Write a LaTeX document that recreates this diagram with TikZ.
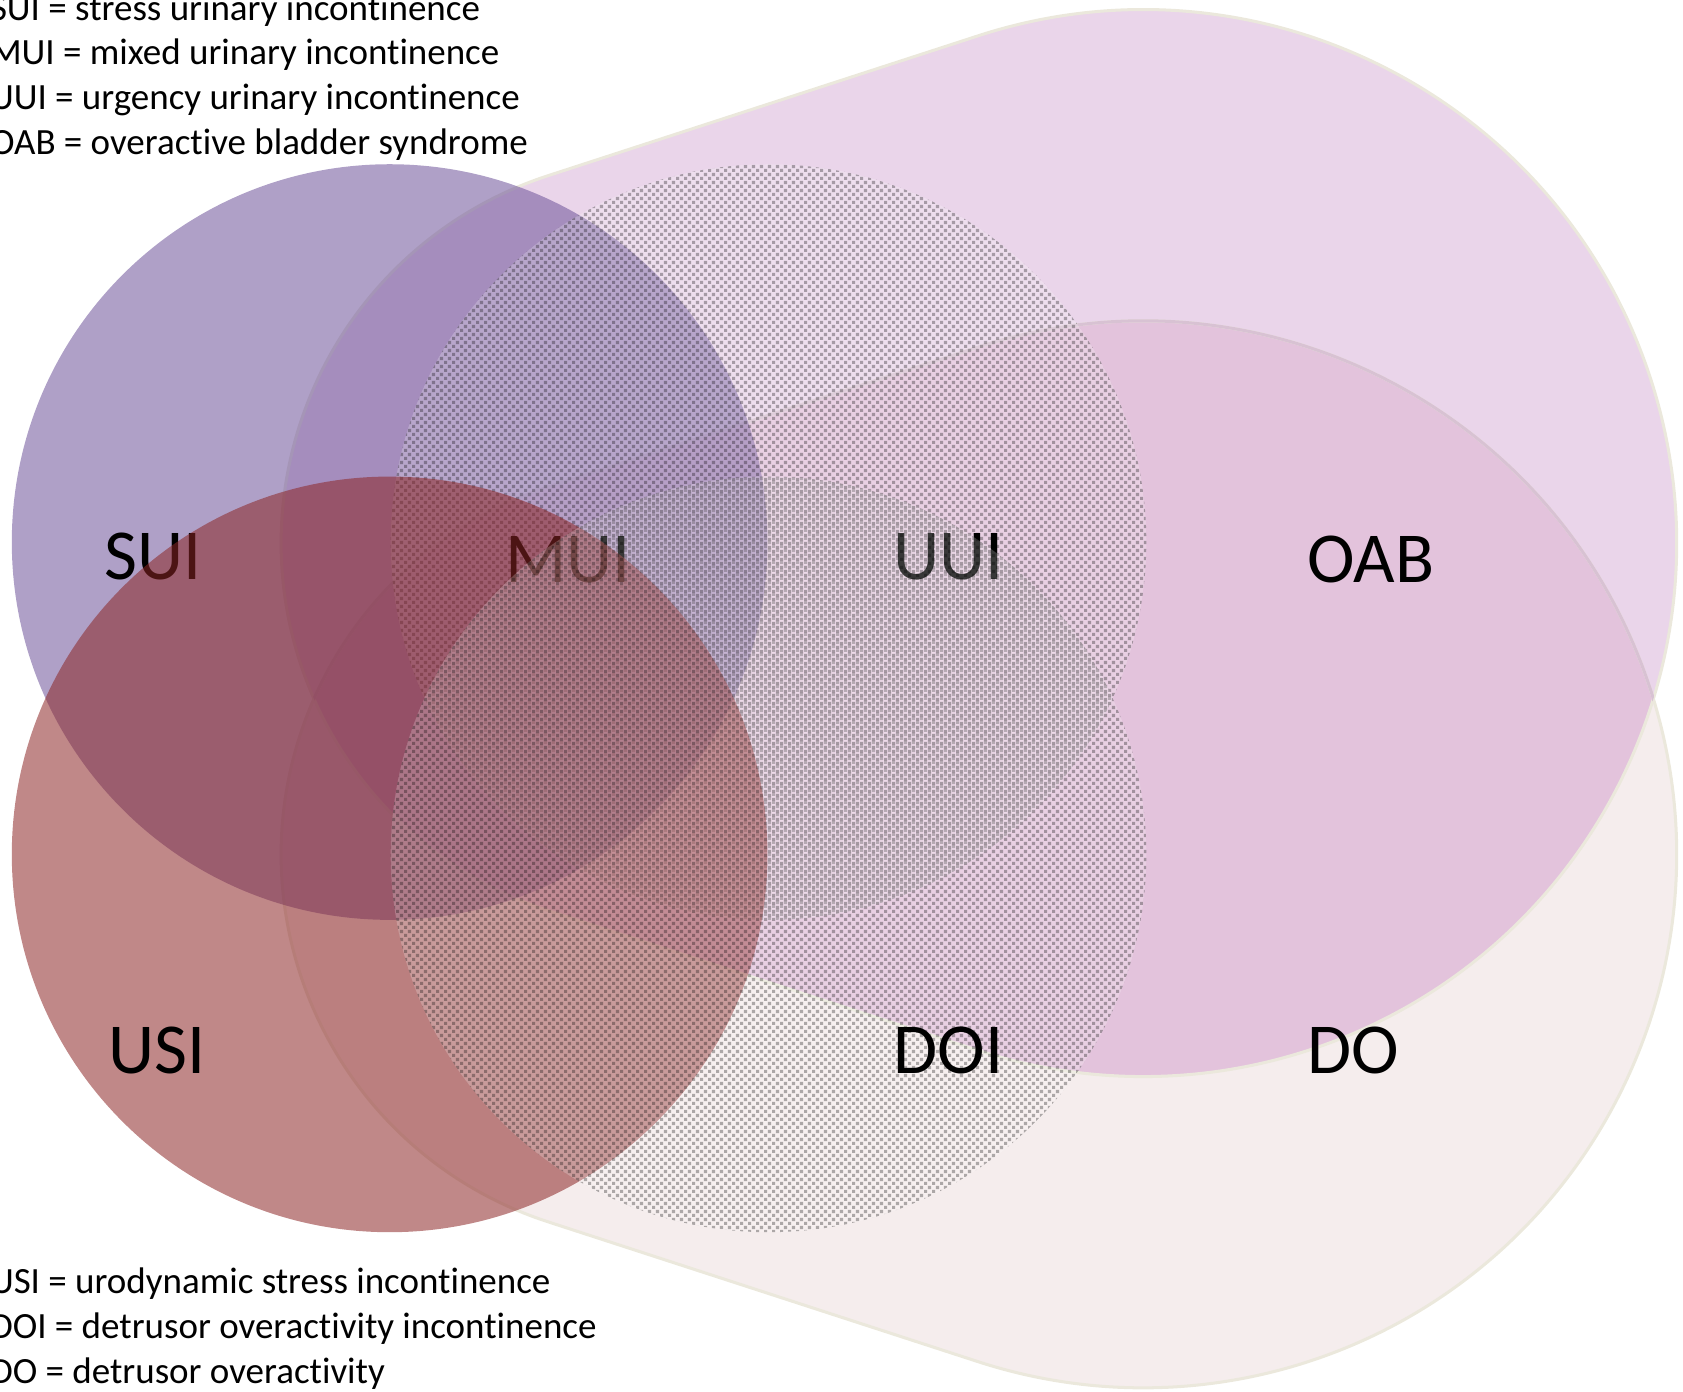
\documentclass[tikz,border=0pt]{standalone}
\usepackage{fontspec}
\setmainfont{Carlito}[Ligatures=NoCommon]
\usetikzlibrary{patterns,calc}

\definecolor{oabfill}{HTML}{EAD5EA}
\definecolor{dofill}{HTML}{F5EDED}
\definecolor{bothfill}{HTML}{E3C3DC}
\definecolor{rimcol}{HTML}{EBE8DC}
\definecolor{innerrim}{HTML}{D8C2D3}
\definecolor{suicol}{RGB}{109,82,153}
\definecolor{usicol}{RGB}{140,38,38}

%% fine checker dots for the two grey circles
\pgfdeclarepatternformonly{finechecker}{\pgfqpoint{0pt}{0pt}}{\pgfqpoint{2.1pt}{2.1pt}}{\pgfqpoint{2.1pt}{2.1pt}}{%
  \pgfpathrectangle{\pgfqpoint{0pt}{0pt}}{\pgfqpoint{0.85pt}{0.85pt}}%
  \pgfpathrectangle{\pgfqpoint{1.05pt}{1.05pt}}{\pgfqpoint{0.85pt}{0.85pt}}%
  \pgfusepath{fill}%
}

\begin{document}
\begin{tikzpicture}[x=0.01cm, y=-0.01cm,
  setcircle/.style={fill=#1, fill opacity=0.55},
  veilcircle/.style={fill=white, fill opacity=0.22},
  dotcircle/.style={pattern=finechecker, pattern color=black, fill opacity=0.3},
  rim/.style={draw=rimcol, line width=0.8pt},
  bigtag/.style={anchor=base west, inner sep=0pt, font=\fontsize{19}{23}\selectfont},
  keytext/.style={anchor=base west, inner sep=0pt, font=\fontsize{9.8}{11.8}\selectfont}
]
\useasboundingbox (0,0) rectangle (1568,1296);

%% centres
\coordinate (oabs) at (622,506);  \coordinate (oabc) at (1065,506);
\coordinate (dos)  at (622,796);  \coordinate (doc)  at (1065,796);
\coordinate (sui) at (363,505);   \coordinate (uui) at (716,505);
\coordinate (usi) at (363,796);   \coordinate (doi) at (716,796);

\def\oabshape{(oabc) ++(-108:497) arc[start angle=-108, end angle=108, radius=497]
  -- ($(oabs)+(108:360)$) arc[start angle=108, end angle=252, radius=360] -- cycle}
\def\doshape{(doc) ++(-108:497) arc[start angle=-108, end angle=108, radius=497]
  -- ($(dos)+(108:360)$) arc[start angle=108, end angle=252, radius=360] -- cycle}

%% OAB and DO backgrounds
\fill[oabfill] \oabshape;
\fill[dofill] \doshape;
\begin{scope}
  \clip \oabshape;
  \fill[bothfill] \doshape;
\end{scope}
\path[rim] \oabshape;
\path[rim] \doshape;
\begin{scope}
  \clip \oabshape;
  \draw[innerrim, line width=0.8pt] \doshape;
\end{scope}

%% upper row of circles
\fill[setcircle=suicol] (sui) circle[radius=352];
\fill[veilcircle] (uui) circle[radius=352];
\fill[dotcircle] (uui) circle[radius=352];

\node[bigtag] (suit) at (97,540)  {SUI};
\node[bigtag] (muit) at (470,543) {MUI};
\node[bigtag] (uuit) at (832,540) {UUI};

%% lower row of circles
\fill[setcircle=usicol] (usi) circle[radius=352];
\fill[veilcircle] (doi) circle[radius=352];
\fill[dotcircle] (doi) circle[radius=352];

\node[bigtag] (oabt) at (1217,543) {OAB};
\node[bigtag] (usit) at (100,1000) {USI};
\node[bigtag] (doit) at (832,1000) {DOI};
\node[bigtag] (dot)  at (1217,1000) {DO};

%% key
\foreach \txt [count=\i] in {SUI = stress urinary incontinence, MUI = mixed urinary incontinence,
    UUI = urgency urinary incontinence, OAB = overactive bladder syndrome}
  \node[keytext] (keyt\i) at (-10,{19+41.5*(\i-1)}) {\txt};
\foreach \txt [count=\i] in {USI = urodynamic stress incontinence,
    DOI = detrusor overactivity incontinence, DO = detrusor overactivity}
  \node[keytext] (keyb\i) at (-10,{1205+42*(\i-1)}) {\txt};

\end{tikzpicture}
\end{document}
